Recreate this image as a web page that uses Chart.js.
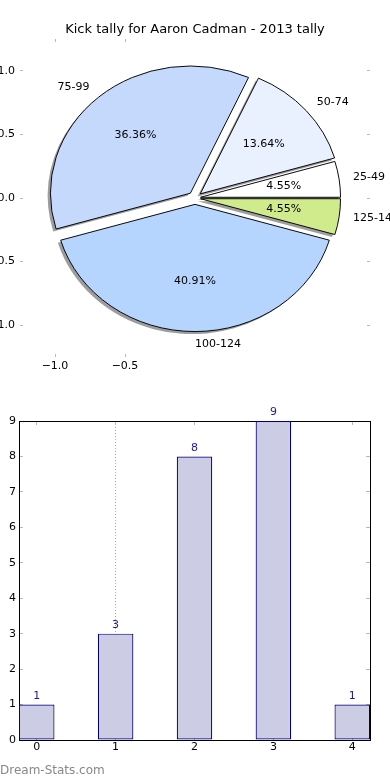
<!DOCTYPE html>
<html>
<head>
<meta charset="utf-8">
<script src="https://cdn.jsdelivr.net/npm/chart.js@4.4.0/dist/chart.umd.min.js"></script>
<style>
  html, body { margin: 0; padding: 0; background: #fff; }
  body { width: 390px; height: 780px; position: relative; overflow: hidden; font-family: "DejaVu Sans", sans-serif; }
  #pieBox { position: absolute; left: 0; top: 0; width: 390px; height: 380px; }
  #barBox { position: absolute; left: 0; top: 380px; width: 390px; height: 400px; }
  #mark { position: absolute; left: 0; top: 762px; font-size: 12px; line-height: 16px; color: #888; }
</style>
</head>
<body>
<div id="pieBox"><canvas id="pieChart"></canvas></div>
<div id="barBox"><canvas id="barChart"></canvas></div>
<div id="mark">Dream-Stats.com</div>
<script>
// data
const ranges = ['25-49', '50-74', '75-99', '100-124', '125-149'];
const kicks = [1, 3, 8, 9, 1];
const barX = [0, 1, 2, 3, 4];
const pieYTicks = [-1, -0.5, 0, 0.5, 1];
const pieXTicks = [-1, -0.5];
const barYTicks = [0, 1, 2, 3, 4, 5, 6, 7, 8, 9];

// styles
const sliceColors = ['#ffffff', '#e9f0fe', '#c5d9fd', '#b5d5fe', '#cfeb8b'];
const explode = [0.04, 0.05, 0.05, 0.05, 0.04];
const TICK_GREY = '#b8b8b8';

Chart.defaults.font.family = '"DejaVu Sans", sans-serif';
Chart.defaults.font.size = 11;
Chart.defaults.color = '#000';

const setTicks = vals => scale => { scale.ticks = vals.map(v => ({ value: v })); };
const fmt1 = v => (v < 0 ? '\u2212' : '') + Math.abs(v).toFixed(1);

// matplotlib pie goes counter-clockwise from 3 o'clock, chart.js clockwise -> reverse
const rev = a => a.slice().reverse();

const yRatio = scales => (scales.y.getPixelForValue(0) - scales.y.getPixelForValue(1)) /
                         (scales.x.getPixelForValue(1) - scales.x.getPixelForValue(0));
const arcGeom = (chart, a, i) => ({
  mid: (a.startAngle + a.endAngle) / 2,
  shift: chart.data.datasets[0].explode[i] * a.outerRadius,
  R: a.outerRadius
});

// draws the wedges squashed to the axes' aspect, exploded and with a drop shadow
const pieDecor = {
  id: 'pieDecor',
  beforeDatasetDraw(chart, args) {
    const { ctx, scales } = chart;
    const arcs = args.meta.data;
    const cx = arcs[0].x, cy = arcs[0].y;
    const k = yRatio(scales);
    ctx.save();
    ctx.translate(cx, cy);
    ctx.scale(1, k);
    ctx.translate(-cx, -cy);
    arcs.forEach((a, i) => {
      const g = arcGeom(chart, a, i);
      const ox = cx + g.shift * Math.cos(g.mid) - 0.02 * g.R;
      const oy = cy + g.shift * Math.sin(g.mid) + 0.02 * g.R;
      ctx.beginPath();
      ctx.moveTo(ox, oy);
      ctx.arc(ox, oy, g.R, a.startAngle, a.endAngle);
      ctx.closePath();
      ctx.fillStyle = 'rgba(60,60,65,0.5)';
      ctx.fill();
    });
    arcs.forEach((a, i) => {
      const g = arcGeom(chart, a, i);
      ctx.save();
      ctx.translate(g.shift * Math.cos(g.mid), g.shift * Math.sin(g.mid));
      a.draw(ctx, chart.chartArea);
      ctx.restore();
    });
    ctx.restore();
    return false;
  },
  afterDatasetsDraw(chart) {
    const { ctx, scales } = chart;
    const meta = chart.getDatasetMeta(0);
    const vals = chart.data.datasets[0].data;
    const total = vals.reduce((s, v) => s + v, 0);
    const k = yRatio(scales);
    ctx.save();
    ctx.font = '11px "DejaVu Sans"';
    ctx.fillStyle = '#000';
    ctx.textBaseline = 'middle';
    meta.data.forEach((a, i) => {
      const g = arcGeom(chart, a, i);
      const at = f => [a.x + (g.shift + f * g.R) * Math.cos(g.mid),
                       a.y + (g.shift + f * g.R) * Math.sin(g.mid) * k];
      let [px, py] = at(0.6);
      ctx.textAlign = 'center';
      ctx.fillText((vals[i] / total * 100).toFixed(2) + '%', px, py);
      [px, py] = at(1.1);
      ctx.textAlign = Math.cos(g.mid) > -1e-6 ? 'left' : 'right';
      ctx.fillText(chart.data.labels[i], px, py);
    });
    ctx.restore();
  }
};

const pieAxis = (position, ticks, fit, showLabels, extra) => Object.assign({
  type: 'linear',
  position: position,
  min: -1.25,
  max: 1.25,
  afterBuildTicks: setTicks(ticks),
  afterFit: fit,
  border: { display: false },
  grid: { drawOnChartArea: false, tickLength: -3, tickColor: TICK_GREY },
  ticks: { display: showLabels, callback: fmt1, autoSkip: false, maxRotation: 0 }
}, extra || {});

new Chart(document.getElementById('pieChart'), {
  type: 'pie',
  data: {
    labels: rev(ranges),
    datasets: [{
      data: rev(kicks),
      explode: rev(explode),
      backgroundColor: rev(sliceColors),
      borderColor: '#000',
      borderWidth: 1,
      radius: 140,
      clip: false
    }]
  },
  options: {
    animation: false,
    events: [],
    responsive: true,
    maintainAspectRatio: false,
    rotation: 90,
    layout: { padding: 0 },
    plugins: {
      legend: { display: false },
      tooltip: { enabled: false },
      title: {
        display: true,
        text: 'Kick tally for Aaron Cadman - 2013 tally',
        font: { size: 13, weight: 'normal' },
        color: '#000',
        padding: { top: 22, bottom: 0 }
      }
    },
    scales: {
      x: pieAxis('bottom', pieXTicks, s => { s.height = 23; }, true, { ticks: { callback: fmt1, padding: 6, autoSkip: false, maxRotation: 0 } }),
      xTop: pieAxis('top', pieXTicks, s => { s.height = 1.4; }, false),
      y: pieAxis('left', pieYTicks, s => { s.width = 20; }, true, { ticks: { callback: fmt1, padding: 8 } }),
      yRight: pieAxis('right', pieYTicks, s => { s.width = 20; }, false)
    }
  },
  plugins: [pieDecor]
});

const barLabels = {
  id: 'barLabels',
  afterDatasetsDraw(chart) {
    const { ctx } = chart;
    const vals = chart.data.datasets[0].data;
    ctx.save();
    ctx.font = '11px "DejaVu Sans"';
    ctx.fillStyle = '#1a1a9c';
    ctx.textAlign = 'center';
    ctx.textBaseline = 'bottom';
    chart.getDatasetMeta(0).data.forEach((bar, i) => {
      ctx.fillText(String(vals[i].y), bar.x, bar.y - 3);
    });
    ctx.restore();
  }
};

const barAxisGrid = { drawOnChartArea: false, tickLength: -4, tickColor: TICK_GREY };

new Chart(document.getElementById('barChart'), {
  type: 'bar',
  data: {
    datasets: [{
      data: barX.map((x, i) => ({ x: x, y: kicks[i] })),
      backgroundColor: '#cccce5',
      borderColor: '#000080',
      borderWidth: 1.2,
      borderSkipped: false,
      barPercentage: 0.45,
      categoryPercentage: 1
    }]
  },
  options: {
    animation: false,
    events: [],
    responsive: true,
    maintainAspectRatio: false,
    layout: { padding: 0 },
    plugins: { legend: { display: false }, tooltip: { enabled: false } },
    scales: {
      x: {
        type: 'linear', position: 'bottom', offset: false,
        min: -0.225, max: 4.225,
        afterBuildTicks: setTicks(barX),
        afterFit: s => { s.height = 40; },
        grid: {
          offset: false, drawOnChartArea: true, tickLength: -4, tickColor: TICK_GREY,
          color: c => (c.tick && c.tick.value === 1 ? '#a8a8a8' : 'rgba(0,0,0,0)')
        },
        border: { color: '#000', width: 1, dash: [1, 2] },
        ticks: { padding: 5, maxRotation: 0, autoSkip: false }
      },
      xTop: {
        type: 'linear', position: 'top', offset: false,
        min: -0.225, max: 4.225,
        afterBuildTicks: setTicks(barX),
        afterFit: s => { s.height = 41; },
        grid: Object.assign({ offset: false }, barAxisGrid),
        border: { color: '#000', width: 1 },
        ticks: { display: false }
      },
      y: {
        type: 'linear', position: 'left', min: 0, max: 9,
        afterBuildTicks: setTicks(barYTicks),
        afterFit: s => { s.width = 19; },
        grid: barAxisGrid,
        border: { color: '#000', width: 1 },
        ticks: { padding: 7 }
      },
      yRight: {
        type: 'linear', position: 'right', min: 0, max: 9,
        afterBuildTicks: setTicks(barYTicks),
        afterFit: s => { s.width = 20; },
        grid: barAxisGrid,
        border: { color: '#000', width: 1 },
        ticks: { display: false }
      }
    }
  },
  plugins: [barLabels]
});
</script>
</body>
</html>
